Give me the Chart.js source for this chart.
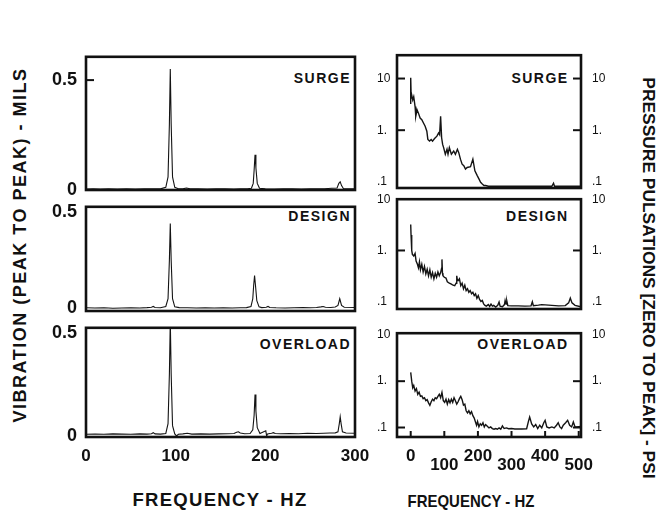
<!DOCTYPE html>
<html><head><meta charset="utf-8">
<script src="https://cdn.jsdelivr.net/npm/chart.js@4.4.1/dist/chart.umd.min.js"></script>
<style>
html,body{margin:0;padding:0;background:#fff;}
body{width:671px;height:514px;position:relative;overflow:hidden;font-family:"Liberation Sans",Arial,Helvetica,sans-serif;}
canvas{position:absolute;}
.t{position:absolute;font-weight:bold;color:#111;white-space:nowrap;line-height:1;}
.pl{font-size:14px;letter-spacing:1.5px;margin-right:-1.5px;}
</style></head><body>
<div class="t" style="left:20px;top:245px;font-size:18px;letter-spacing:1.5px;transform:translate(-50%,-50%) rotate(-90deg);">VIBRATION (PEAK TO PEAK) - MILS</div>
<div class="t" style="left:648px;top:278px;font-size:17.4px;transform:translate(-50%,-50%) rotate(90deg);">PRESSURE PULSATIONS [ZERO TO PEAK] - PSI</div>
<div class="t" style="left:220px;top:500px;font-size:18.5px;letter-spacing:1.3px;transform:translate(-50%,-50%);">FREQUENCY - HZ</div>
<div class="t" style="left:471px;top:501px;font-size:17px;transform:translate(-50%,-50%) scaleX(0.88);">FREQUENCY - HZ</div>
<div class="t pl" style="right:321.5px;top:71px;">SURGE</div>
<div class="t pl" style="right:321.5px;top:209px;">DESIGN</div>
<div class="t pl" style="right:321.5px;top:337px;">OVERLOAD</div>
<div class="t pl" style="right:103.8px;top:71px;">SURGE</div>
<div class="t pl" style="right:103.8px;top:209px;">DESIGN</div>
<div class="t pl" style="right:103.8px;top:337px;">OVERLOAD</div>
<script>
// ---------- DATA ----------
const leftXTicks = [0, 100, 200, 300];
const rightXTicks = [0, 100, 200, 300, 400, 500];
const leftYTicks = [0, 0.5];
const leftYLabels = ['0', '0.5'];
const rightYTicks = [0.1, 1, 10];
const rightYLabels = ['.1', '1.', '10'];

// Vibration (peak to peak), mils vs frequency, Hz
const surgeVibHz = [0, 8, 16, 25, 35, 45, 55, 65, 75, 83, 89, 91.5, 93, 94, 95, 96.5, 99, 103, 108, 112, 116, 125, 135, 145, 155, 165, 172, 180, 184.5, 186.5, 187.5, 188.5, 189.5, 191, 193.5, 200, 210, 220, 230, 240, 250, 258, 266, 274, 280, 282, 283.5, 285, 287, 300];
const surgeVibMils = [0.004, 0.005, 0.004, 0.005, 0.004, 0.006, 0.004, 0.005, 0.006, 0.005, 0.012, 0.06, 0.3, 0.55, 0.3, 0.06, 0.012, 0.006, 0.005, 0.009, 0.005, 0.006, 0.004, 0.005, 0.006, 0.004, 0.005, 0.006, 0.008, 0.03, 0.09, 0.16, 0.1, 0.03, 0.008, 0.005, 0.004, 0.006, 0.005, 0.004, 0.006, 0.005, 0.006, 0.008, 0.009, 0.03, 0.037, 0.02, 0.007, 0.006];

const designVibHz = [0, 10, 20, 30, 40, 50, 60, 68, 73, 75, 77, 83, 89, 91.5, 93, 94, 95, 96.5, 99, 104, 113, 123, 133, 143, 153, 163, 172, 179, 184, 186, 187, 188, 189, 190.5, 193, 196, 201, 203, 205, 212, 222, 232, 242, 250, 257, 262, 264.5, 267, 273, 278, 281, 283, 285, 288, 300];
const designVibMils = [0.003, 0.002, 0.003, 0.001, 0.002, 0.003, 0.002, 0.004, 0.006, 0.01, 0.005, 0.003, 0.01, 0.05, 0.25, 0.44, 0.25, 0.05, 0.008, 0.004, 0.003, 0.002, 0.003, 0.002, 0.003, 0.002, 0.003, 0.004, 0.01, 0.05, 0.12, 0.17, 0.12, 0.04, 0.008, 0.004, 0.006, 0.01, 0.005, 0.003, 0.002, 0.003, 0.004, 0.003, 0.005, 0.008, 0.01, 0.006, 0.005, 0.007, 0.015, 0.05, 0.015, 0.006, 0.005];

const overloadVibHz = [0, 10, 20, 30, 40, 50, 60, 68, 73, 75, 77, 83, 89, 91.5, 93, 94, 95, 96.5, 99, 101, 103, 108, 113, 118, 128, 138, 148, 158, 165, 168, 170, 172, 177, 183, 186, 187.5, 188.5, 189.5, 191, 194, 200.5, 201.5, 202.5, 205, 207, 209, 211, 217, 227, 237, 247, 257, 265, 272, 278, 281, 282.5, 283.5, 284.5, 286, 290, 300];
const overloadVibMils = [0.008, 0.009, 0.008, 0.01, 0.009, 0.008, 0.01, 0.009, 0.011, 0.016, 0.01, 0.009, 0.012, 0.06, 0.3, 0.56, 0.3, 0.05, 0.01, 0.0, 0.008, 0.01, 0.013, 0.009, 0.01, 0.009, 0.01, 0.011, 0.012, 0.018, 0.02, 0.014, 0.011, 0.012, 0.03, 0.1, 0.2, 0.12, 0.04, 0.012, 0.025, 0.0, 0.01, 0.012, 0.013, 0.016, 0.012, 0.011, 0.012, 0.011, 0.013, 0.012, 0.013, 0.014, 0.015, 0.02, 0.06, 0.093, 0.06, 0.02, 0.014, 0.013];

// Pressure pulsations (zero to peak), psi vs frequency, Hz
const surgePresHz = [-2, 0, 1.5, 3, 6, 9, 13, 15, 19, 23, 28, 33, 38, 43, 48, 51, 56, 61, 65, 71, 78, 83, 86, 89, 92, 95, 98, 103, 108, 111, 115, 121, 128, 133, 139, 143, 148, 153, 158, 163, 168, 178, 185, 191, 198, 203, 208, 213, 218, 223, 231, 300, 420, 425, 428, 506];
const surgePresPsi = [3.3, 10.3, 4.2, 4.8, 3.86, 4.46, 2.87, 1.85, 2.48, 2.14, 1.72, 1.6, 1.38, 1.19, 0.955, 0.662, 0.615, 0.662, 0.615, 0.69, 0.767, 0.887, 0.82, 1.85, 0.713, 0.531, 0.459, 0.342, 0.427, 0.342, 0.459, 0.342, 0.396, 0.342, 0.427, 0.368, 0.275, 0.22, 0.205, 0.177, 0.19, 0.196, 0.275, 0.164, 0.132, 0.114, 0.098, 0.091, 0.085, 0.085, 0.082, 0.082, 0.082, 0.094, 0.082, 0.082];

const designPresHz = [0, 1, 3, 5, 9, 13, 16, 20, 23, 26, 29, 33, 37, 41, 45, 49, 53, 57, 61, 65, 69, 73, 77, 81, 85, 89, 92, 93, 94.5, 96, 100, 105, 109, 115, 121, 126, 131, 135, 137, 139, 141, 145, 149, 153, 157, 161, 165, 169, 173, 177, 181, 185, 189, 193, 197, 201, 205, 209, 213, 217, 221, 225, 231, 235, 239, 243, 247, 253, 259, 263, 266, 273, 279, 281, 284, 286, 289, 300, 320, 340, 358, 362, 365, 380, 390, 400, 420, 440, 460, 470, 475, 480, 489, 506];
const designPresPsi = [3.2, 2.0, 1.0, 0.84, 0.78, 0.88, 0.62, 0.54, 0.46, 0.6, 0.42, 0.54, 0.38, 0.49, 0.35, 0.43, 0.32, 0.42, 0.3, 0.37, 0.28, 0.36, 0.3, 0.38, 0.32, 0.37, 0.45, 0.67, 0.36, 0.32, 0.3, 0.29, 0.246, 0.23, 0.22, 0.21, 0.205, 0.23, 0.32, 0.26, 0.257, 0.28, 0.205, 0.23, 0.178, 0.21, 0.165, 0.18, 0.153, 0.165, 0.143, 0.153, 0.132, 0.143, 0.117, 0.132, 0.111, 0.101, 0.106, 0.091, 0.085, 0.082, 0.088, 0.081, 0.09, 0.082, 0.085, 0.079, 0.085, 0.099, 0.082, 0.08, 0.088, 0.106, 0.09, 0.104, 0.084, 0.083, 0.083, 0.082, 0.083, 0.1, 0.084, 0.086, 0.088, 0.087, 0.085, 0.083, 0.084, 0.095, 0.118, 0.095, 0.085, 0.08];

const overloadPresHz = [0, 3, 6, 9, 13, 17, 21, 25, 29, 33, 37, 41, 45, 49, 53, 57, 61, 65, 69, 73, 77, 81, 85, 89, 93, 97, 101, 105, 109, 113, 117, 121, 125, 129, 133, 137, 141, 145, 149, 153, 157, 161, 165, 169, 173, 177, 181, 185, 189, 193, 196, 199, 203, 207, 211, 215, 219, 223, 228, 233, 238, 243, 248, 253, 258, 263, 268, 273, 278, 285, 291, 300, 310, 330, 345, 350, 354, 360, 366, 372, 378, 384, 390, 396, 400, 405, 412, 420, 427, 434, 439, 444, 449, 454, 461, 467, 473, 479, 484, 489, 494, 506];
const overloadPresPsi = [1.55, 1.0, 0.72, 0.81, 0.61, 0.69, 0.52, 0.58, 0.47, 0.48, 0.42, 0.44, 0.38, 0.4, 0.34, 0.3, 0.36, 0.41, 0.38, 0.44, 0.42, 0.47, 0.52, 0.44, 0.57, 0.38, 0.35, 0.41, 0.32, 0.4, 0.34, 0.41, 0.35, 0.44, 0.38, 0.32, 0.36, 0.42, 0.47, 0.4, 0.306, 0.32, 0.23, 0.207, 0.23, 0.197, 0.22, 0.18, 0.16, 0.13, 0.112, 0.135, 0.103, 0.12, 0.112, 0.127, 0.103, 0.116, 0.107, 0.098, 0.103, 0.095, 0.092, 0.095, 0.092, 0.098, 0.092, 0.108, 0.095, 0.098, 0.094, 0.095, 0.093, 0.093, 0.094, 0.132, 0.168, 0.12, 0.103, 0.116, 0.095, 0.112, 0.098, 0.127, 0.143, 0.103, 0.098, 0.103, 0.098, 0.112, 0.127, 0.103, 0.095, 0.112, 0.127, 0.143, 0.112, 0.103, 0.132, 0.103, 0.103, 0.105];

// ---------- RENDER ----------
const FAM = '"Liberation Sans", Arial, Helvetica, sans-serif';
function pts(xs, ys) { return xs.map((x, i) => ({x: x, y: ys[i]})); }

const framePlugin = {
  id: 'frame',
  afterDatasetsDraw(chart, args, o) {
    const ctx = chart.ctx, a = chart.chartArea, xs = chart.scales.x, ys = chart.scales.y;
    ctx.save();
    ctx.strokeStyle = '#111';
    ctx.lineCap = 'butt';
    ctx.lineWidth = 2;
    const L = o.len || 8;
    (o.left || []).forEach(v => { const p = ys.getPixelForValue(v); ctx.beginPath(); ctx.moveTo(a.left, p); ctx.lineTo(a.left + L, p); ctx.stroke(); });
    (o.right || []).forEach(v => { const p = ys.getPixelForValue(v); ctx.beginPath(); ctx.moveTo(a.right, p); ctx.lineTo(a.right - L, p); ctx.stroke(); });
    (o.bottom || []).forEach(v => { const p = xs.getPixelForValue(v); ctx.beginPath(); ctx.moveTo(p, a.bottom); ctx.lineTo(p, a.bottom - 6); ctx.stroke(); });
    ctx.lineWidth = 2.6;
    ctx.strokeRect(a.left, a.top, a.right - a.left, a.bottom - a.top);
    ctx.restore();
  }
};

function panel(o) {
  const ML = o.ml, MR = o.mr, MT = 16, MB = 40;
  const W = o.area.r - o.area.l + ML + MR, H = o.area.b - o.area.t + MT + MB;
  const cv = document.createElement('canvas');
  cv.width = W; cv.height = H;
  cv.style.left = (o.area.l - ML) + 'px'; cv.style.top = (o.area.t - MT) + 'px';
  cv.style.width = W + 'px'; cv.style.height = H + 'px';
  document.body.appendChild(cv);
  const yTickBase = {autoSkip: false, color: '#111', font: o.yFont,
    callback: v => { const i = o.yTicks.indexOf(v); return i >= 0 ? o.yLabels[i] : ''; }};
  const yBase = {
    type: o.yType, min: o.yMin, max: o.yMax,
    grid: {display: false, drawTicks: false}, border: {display: false},
    afterBuildTicks: s => { s.ticks = o.yTicks.filter(v => v >= o.yMin && v <= o.yMax).map(v => ({value: v})); }
  };
  const scales = {
    x: {type: 'linear', min: o.xMin, max: o.xMax, position: 'bottom',
        grid: {display: false, drawTicks: false}, border: {display: false},
        afterFit: s => { s.height = MB; },
        afterBuildTicks: s => { s.ticks = o.xTicks.map(v => ({value: v})); },
        ticks: {display: o.showX, autoSkip: false, maxRotation: 0, minRotation: 0, color: '#111',
                font: o.xFont, padding: o.xPad, callback: o.xCb}},
    y: Object.assign({}, yBase, {position: 'left', afterFit: s => { s.width = ML; },
        ticks: Object.assign({}, yTickBase, {padding: o.yPad, crossAlign: o.yAlign})})
  };
  if (o.rightAxis) {
    scales.y2 = Object.assign({}, yBase, {position: 'right', afterFit: s => { s.width = MR; },
        ticks: Object.assign({}, yTickBase, {padding: o.y2Pad})});
  }
  new Chart(cv, {
    type: 'line',
    data: {datasets: [{data: pts(o.xs, o.ys), borderColor: '#141414', borderWidth: o.lw,
                       pointRadius: 0, tension: 0, fill: false}]},
    options: {responsive: false, animation: false, devicePixelRatio: 1,
      layout: {padding: {top: MT, right: o.rightAxis ? 0 : MR, left: 0, bottom: 0}},
      plugins: {legend: {display: false}, tooltip: {enabled: false}, frame: o.frame},
      scales: scales},
    plugins: [framePlugin]
  });
}

const leftYFont = {family: FAM, size: 18, weight: 'bold'};
const rightYFont = {family: FAM, size: 12, weight: 'normal'};
const xFontL = {family: FAM, size: 17, weight: 'bold', lineHeight: 1.2};
const xFontR = {family: FAM, size: 17, weight: 'bold', lineHeight: '9px'};

function leftPanel(area, xs, ys, yMin, yMax, showX, frame) {
  panel({area, xs, ys, ml: 60, mr: 45, xMin: 0, xMax: 300, xTicks: leftXTicks, showX,
    xFont: xFontL, xPad: 8.8, xCb: v => String(v), lw: 1.1,
    yType: 'linear', yMin, yMax, yTicks: leftYTicks, yLabels: leftYLabels, yFont: leftYFont,
    yPad: 9, yAlign: 'near', rightAxis: false, frame});
}
function rightPanel(area, xs, ys, yMin, yMax, showX, frame) {
  panel({area, xs, ys, ml: 20, mr: 45, xMin: -40.8, xMax: 506.8, xTicks: rightXTicks, showX,
    xFont: xFontR, xPad: 14.5, xCb: (v, i) => (i % 2 ? ['', String(v)] : String(v)), lw: 1.4,
    yType: 'logarithmic', yMin, yMax, yTicks: rightYTicks, yLabels: rightYLabels, yFont: rightYFont,
    yPad: 0, yAlign: 'far', rightAxis: true, y2Pad: 11, frame});
}

leftPanel({l: 86, r: 355, t: 53, b: 190}, surgeVibHz, surgeVibMils, 0, 0.606, false, {left: [0.5]});
leftPanel({l: 86, r: 355, t: 203, b: 311}, designVibHz, designVibMils, -0.0135, 0.527, false, {});
leftPanel({l: 86, r: 355, t: 324, b: 437}, overloadVibHz, overloadVibMils, -0.005, 0.523, true, {});

rightPanel({l: 397, r: 581, t: 53, b: 188}, surgePresHz, surgePresPsi, 0.076, 28.3, false, {left: [10, 1], right: [10, 1]});
rightPanel({l: 397, r: 581, t: 197, b: 309}, designPresHz, designPresPsi, 0.0722, 10, false, {left: [1], right: [1]});
rightPanel({l: 397, r: 581, t: 331, b: 437}, overloadPresHz, overloadPresPsi, 0.0624, 10.86, true, {left: [1, 0.1], right: [1, 0.1], bottom: rightXTicks});
</script>
</body></html>
